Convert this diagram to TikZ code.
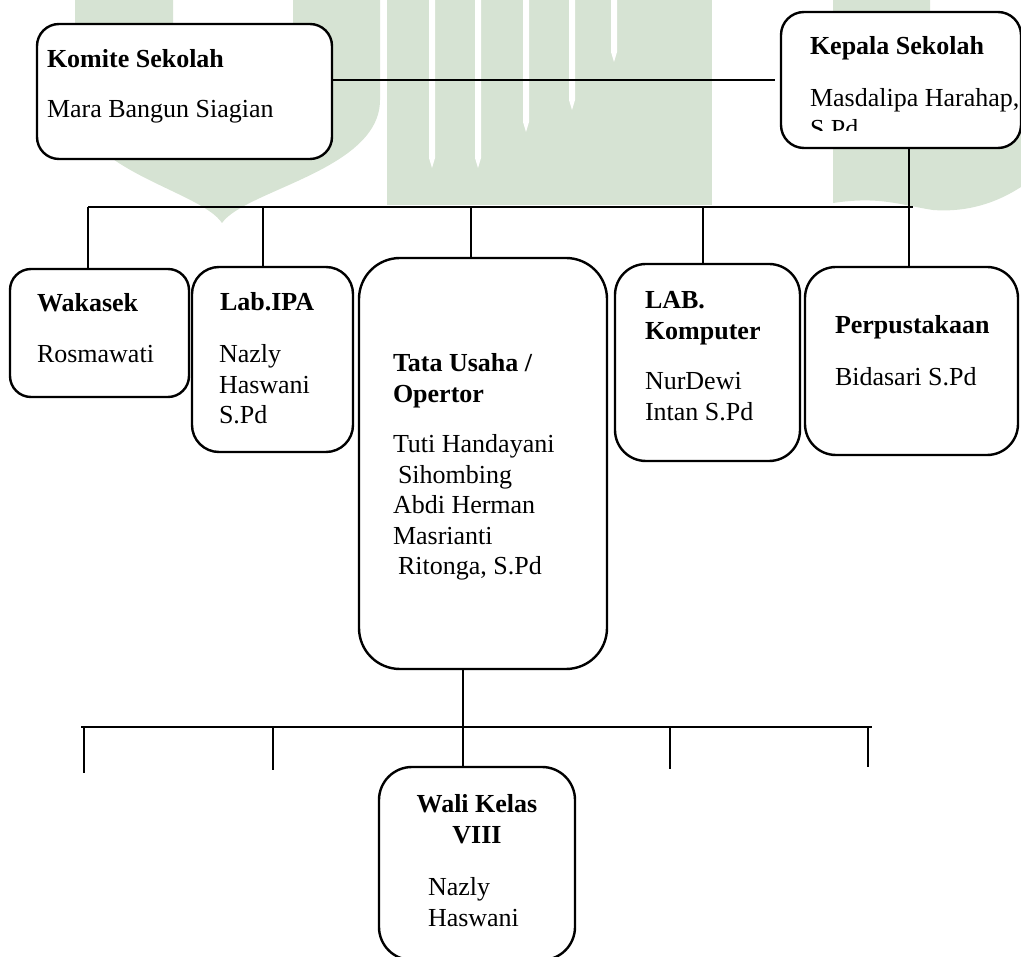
\documentclass[tikz,border=0pt]{standalone}
\usepackage{fontspec}
\setmainfont{Liberation Serif}
\usetikzlibrary{calc}
\definecolor{watermark}{RGB}{214,227,211}

\begin{document}
\begin{tikzpicture}[x=1pt,y=-1pt,
  every node/.style={align=left,inner sep=0pt,outer sep=0pt,font=\fontsize{26}{30.5}\selectfont},
  kotak/.style={draw,line width=2.4pt,fill=white,anchor=north west},
  jabatan/.style={anchor=north west,font=\fontsize{26}{30.5}\selectfont\bfseries},
  nama/.style={anchor=north west},
  conn/.style={line width=1.3pt},
  bus/.style={line width=2pt}]
\useasboundingbox (0,0) rectangle (1021,957);
\clip (0,0) rectangle (1021,957);

% background watermark
\fill [watermark,even odd rule] (75,0) -- (75,100) .. controls (75,170) and (200,190) .. (222,223) .. controls (245,190) and (380,170) .. (380,100) -- (380,0) -- cycle
  (173,0) -- (173,110) .. controls (173,150) and (293,150) .. (293,110) -- (293,0) -- cycle;
\fill [watermark] (387,0) rectangle (712,205);
\foreach \x/\l in {432/168,478/168,526/132,572/110,614/62}
  \fill [white] (\x-3,0) -- (\x-3,\l-10) -- (\x,\l) -- (\x+3,\l-10) -- (\x+3,0) -- cycle;
\fill [watermark] (833,0) -- (930,0) -- (930,100) -- (1021,100) -- (1021,187) .. controls (990,207) and (960,212) .. (933,210) .. controls (900,205) and (880,196) .. (833,203) -- cycle;

% boxes
\node [kotak,minimum width=295pt,minimum height=135pt,rounded corners=22pt] (Komite) at (37,24) {};
\node [kotak,minimum width=240pt,minimum height=136pt,rounded corners=23pt] (Kepala) at (781,12) {};
\node [kotak,minimum width=179pt,minimum height=128pt,rounded corners=21pt] (Wakasek) at (10,269) {};
\node [kotak,minimum width=161pt,minimum height=185pt,rounded corners=27pt] (LabIPA) at (192,267) {};
\node [kotak,minimum width=248pt,minimum height=411pt,rounded corners=41pt] (TataUsaha) at (359,258) {};
\node [kotak,minimum width=185pt,minimum height=197pt,rounded corners=31pt] (LabKomputer) at (615,264) {};
\node [kotak,minimum width=213pt,minimum height=188pt,rounded corners=31pt] (Perpustakaan) at (805,267) {};
\node [kotak,minimum width=196pt,minimum height=193pt,rounded corners=33pt] (WaliKelas) at (379,767) {};

% texts
\node [jabatan] (KomiteJabatan) at (47,49.5) {Komite Sekolah};
\node [nama] (KomiteNama) at (47,100.5) {Mara Bangun Siagian};
\node [jabatan] (KepalaJabatan) at (810,36.5) {Kepala Sekolah};
\begin{scope}
\clip (781,12) rectangle (1021,131);
\node [nama] (KepalaNama) at (810,88.5) {Masdalipa Harahap,\\S.Pd};
\end{scope}
\node [jabatan] (WakasekJabatan) at (37,293.5) {Wakasek};
\node [nama] (WakasekNama) at (37,345.5) {Rosmawati};
\node [jabatan] (LabIPAJabatan) at (220,292.5) {Lab.IPA};
\node [nama] (LabIPANama) at (219,344.5) {Nazly\\Haswani\\S.Pd};
\node [jabatan] (TataUsahaJabatan) at (393,353.5) {Tata Usaha /\\Opertor};
\node [nama] (TataUsahaNama) at (393,434.5) {Tuti Handayani\\\hspace*{5pt}Sihombing\\Abdi Herman\\Masrianti\\\hspace*{5pt}Ritonga, S.Pd};
\node [jabatan] (LabKomputerJabatan) at (645,291.5) {LAB.\\Komputer};
\node [nama] (LabKomputerNama) at (645,372.5) {NurDewi\\Intan S.Pd};
\node [jabatan] (PerpustakaanJabatan) at (835,315.5) {Perpustakaan};
\node [nama] (PerpustakaanNama) at (835,367.5) {Bidasari S.Pd};
\node [jabatan,align=center,anchor=north] (WaliKelasJabatan) at (477,794.5) {Wali Kelas\\VIII};
\node [nama] (WaliKelasNama) at (428,877.5) {Nazly\\Haswani};

% connectors
\draw [bus,shorten >=6pt] (Komite.east |- Kepala.west) -- (Kepala.west);
\coordinate (busWest) at (88,207.5);
\coordinate (busEast) at (913,207.5);
\coordinate (dropIPA) at (263,207.5);
\coordinate (dropTU) at (471,207.5);
\coordinate (dropKomp) at (703,207.5);
\coordinate (dropPer) at (909,207.5);
\draw [bus] (busWest) -- (busEast);
\draw [conn] (dropPer |- Kepala.south) -- (dropPer |- Perpustakaan.north);
\draw [conn] (busWest) -- (busWest |- Wakasek.north);
\draw [conn] (dropIPA) -- (dropIPA |- LabIPA.north);
\draw [conn] (dropTU) -- (dropTU |- TataUsaha.north);
\draw [conn] (dropKomp) -- (dropKomp |- LabKomputer.north);

\coordinate (bus2West) at (81,726.5);
\coordinate (bus2East) at (872,726.5);
\coordinate (dropWali) at (463,726.5);
\coordinate (tick1) at (84,773);
\coordinate (tick2) at (273,770);
\coordinate (tick3) at (670,769);
\coordinate (tick4) at (868,767);
\draw [bus] (bus2West) -- (bus2East);
\draw [conn] (dropWali |- TataUsaha.south) -- (dropWali |- WaliKelas.north);
\foreach \t in {1,...,4}
  \draw [conn] (tick\t |- bus2West) -- (tick\t);
\end{tikzpicture}
\end{document}
